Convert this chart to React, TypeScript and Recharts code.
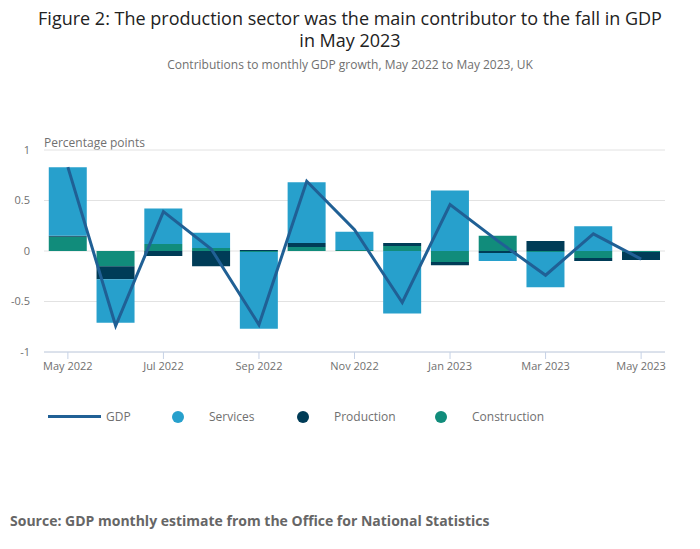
import { Bar, ComposedChart, Line, XAxis, YAxis, CartesianGrid } from 'recharts';

const months = [
  'May 2022', 'Jun 2022', 'Jul 2022', 'Aug 2022', 'Sep 2022', 'Oct 2022', 'Nov 2022',
  'Dec 2022', 'Jan 2023', 'Feb 2023', 'Mar 2023', 'Apr 2023', 'May 2023',
];
const services = [0.68, -0.43, 0.35, 0.15, -0.76, 0.6, 0.18, -0.62, 0.6, -0.08, -0.35, 0.245, 0];
const production = [0.01, -0.13, -0.05, -0.15, 0.01, 0.04, 0, 0.03, -0.03, -0.02, 0.1, -0.03, -0.08];
const construction = [0.14, -0.15, 0.07, 0.03, -0.01, 0.04, 0.01, 0.05, -0.11, 0.15, -0.01, -0.07, -0.01];
const gdp = [0.83, -0.74, 0.39, 0.02, -0.73, 0.69, 0.21, -0.51, 0.46, 0.1, -0.24, 0.17, -0.08];
const yTicks = [-1, -0.5, 0, 0.5, 1];

const data = months.map((month, i) => ({
  month,
  services: services[i],
  production: production[i],
  construction: construction[i],
  gdp: gdp[i],
}));

const colors = {
  gdp: '#206095',
  services: '#27a0cc',
  production: '#003c57',
  construction: '#118c7b',
};

const grey = '#707070';

function LegendDot({ color }: { color: string }) {
  return (
    <span
      style={{
        display: 'inline-block',
        width: 12,
        height: 12,
        borderRadius: '50%',
        background: color,
      }}
    />
  );
}

export default function App() {
  return (
    <div
      style={{
        position: 'absolute',
        left: 0,
        top: 0,
        width: 700,
        height: 549,
        background: '#fff',
        fontFamily: '"Open Sans", sans-serif',
      }}
    >
      <div
        style={{
          position: 'absolute',
          top: 7,
          left: 0,
          width: 700,
          textAlign: 'center',
          fontSize: 18,
          lineHeight: '22px',
          color: '#222',
        }}
      >
        Figure 2: The production sector was the main contributor to the fall in GDP
        <br />
        in May 2023
      </div>
      <div
        style={{
          position: 'absolute',
          top: 56,
          left: 0,
          width: 700,
          textAlign: 'center',
          fontSize: 12,
          color: grey,
        }}
      >
        Contributions to monthly GDP growth, May 2022 to May 2023, UK
      </div>
      <div style={{ position: 'absolute', top: 134, left: 44, fontSize: 12, color: grey }}>
        Percentage points
      </div>

      <div style={{ position: 'absolute', top: 0, left: 0 }}>
        <ComposedChart
          width={700}
          height={400}
          data={data}
          stackOffset="sign"
          barCategoryGap="10%"
          margin={{ top: 150, right: 35, bottom: 18, left: 0 }}
        >
          <CartesianGrid vertical={false} stroke="#e2e2e2" />
          <XAxis
            dataKey="month"
            interval={1}
            height={30}
            tickSize={7}
            tickMargin={3}
            stroke="#c6d2e6"
            tick={{ fontSize: 11, fill: grey }}
          />
          <YAxis
            domain={[-1, 1]}
            ticks={yTicks}
            width={44}
            axisLine={false}
            tickLine={false}
            tickSize={0}
            tickMargin={14}
            tick={{ fontSize: 11, fill: grey }}
          />
          <Bar dataKey="construction" stackId="a" fill={colors.construction} isAnimationActive={false} />
          <Bar dataKey="production" stackId="a" fill={colors.production} isAnimationActive={false} />
          <Bar dataKey="services" stackId="a" fill={colors.services} isAnimationActive={false} />
          <Line
            type="linear"
            dataKey="gdp"
            stroke={colors.gdp}
            strokeWidth={3}
            dot={false}
            activeDot={false}
            isAnimationActive={false}
          />
        </ComposedChart>
      </div>

      <div
        style={{
          position: 'absolute',
          top: 408,
          left: 0,
          height: 18,
          fontSize: 12,
          color: grey,
        }}
      >
        <div style={{ position: 'absolute', left: 48, top: 7, width: 53, height: 3, background: colors.gdp }} />
        <div style={{ position: 'absolute', left: 106, top: 0, whiteSpace: 'nowrap' }}>GDP</div>
        <div style={{ position: 'absolute', left: 172, top: 2 }}>
          <LegendDot color={colors.services} />
        </div>
        <div style={{ position: 'absolute', left: 209, top: 0, whiteSpace: 'nowrap' }}>Services</div>
        <div style={{ position: 'absolute', left: 297, top: 2 }}>
          <LegendDot color={colors.production} />
        </div>
        <div style={{ position: 'absolute', left: 334, top: 0, whiteSpace: 'nowrap' }}>Production</div>
        <div style={{ position: 'absolute', left: 435, top: 2 }}>
          <LegendDot color={colors.construction} />
        </div>
        <div style={{ position: 'absolute', left: 472, top: 0, whiteSpace: 'nowrap' }}>Construction</div>
      </div>

      <div
        style={{
          position: 'absolute',
          top: 511,
          left: 10,
          fontSize: 14,
          fontWeight: 700,
          color: '#666',
          whiteSpace: 'nowrap',
        }}
      >
        Source: GDP monthly estimate from the Office for National Statistics
      </div>
    </div>
  );
}
